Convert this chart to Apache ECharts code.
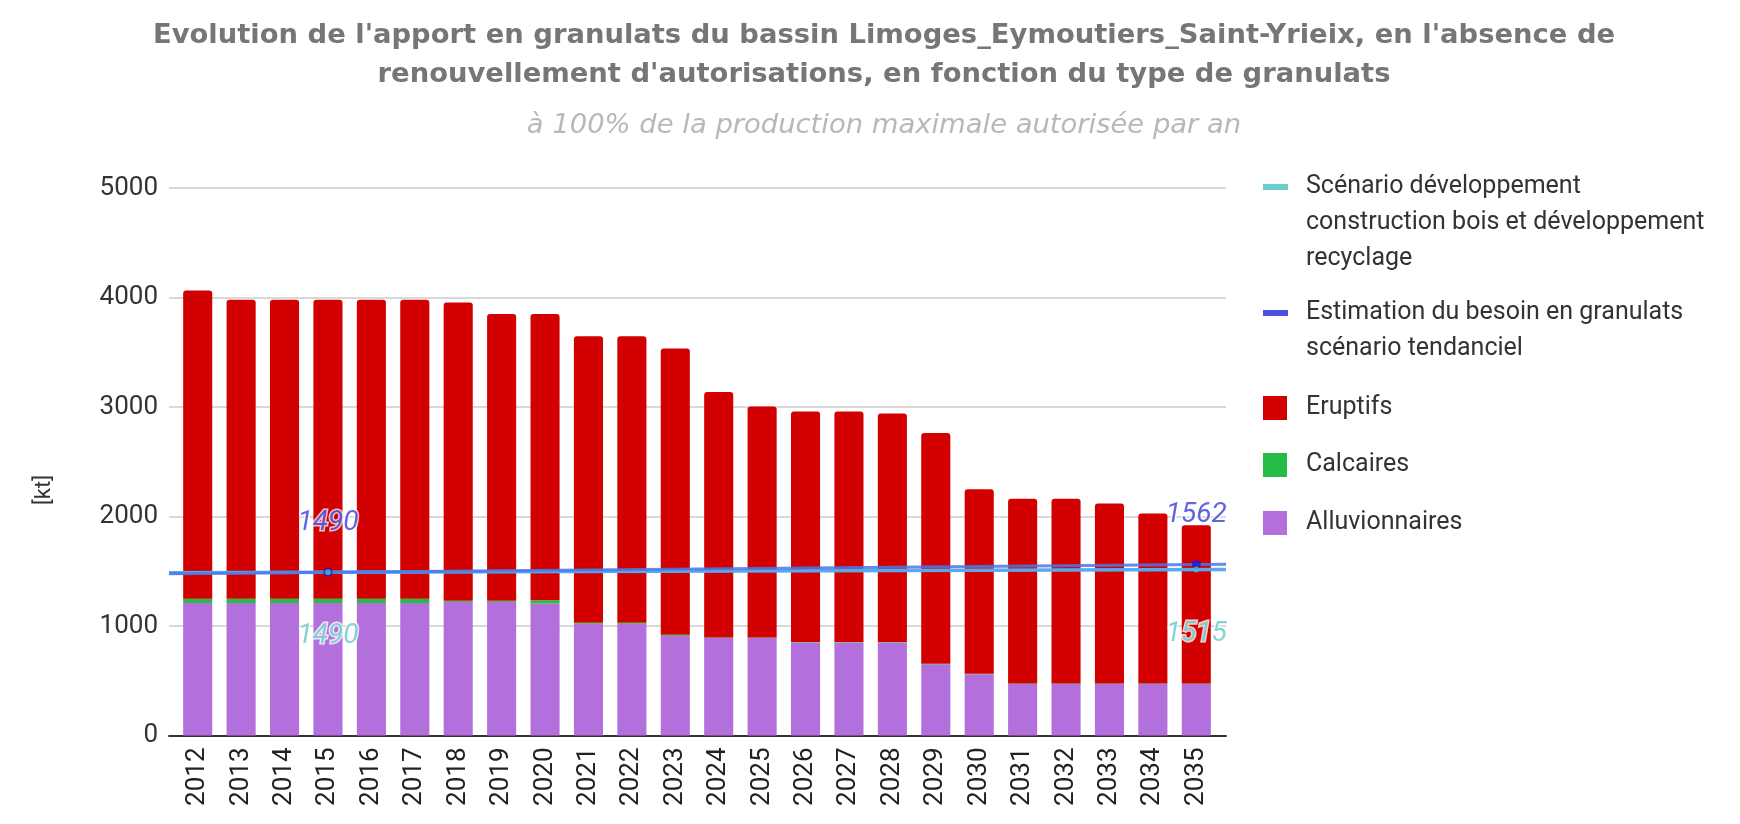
<!DOCTYPE html>
<html>
<head>
<meta charset="utf-8">
<script src="https://cdn.jsdelivr.net/npm/echarts@6/dist/echarts.min.js"></script>
<style>
  html, body { margin: 0; padding: 0; background: #ffffff; }
  #chart { width: 1740px; height: 824px; }
</style>
</head>
<body>
<div id="chart"></div>
<script>
// Années et apports (kt) par type de granulats
const years = ['2012','2013','2014','2015','2016','2017','2018','2019','2020','2021','2022','2023',
               '2024','2025','2026','2027','2028','2029','2030','2031','2032','2033','2034','2035'];
const alluvionnaires = [1210,1210,1210,1210,1210,1210,1220,1220,1205,1020,1020,910,
                        890,890,850,850,850,650,560,470,470,470,470,470];
const calcaires = [40,40,40,40,40,40,10,10,30,10,10,10,
                   5,5,5,5,5,5,5,5,5,5,5,5];
const eruptifs = [2815,2730,2730,2730,2730,2730,2725,2620,2615,2617,2617,2614,
                  2243,2110,2105,2105,2086,2107,1685,1687,1687,1644,1552,1446];

// Besoins (kt) : points renseignés de chaque scénario
const scenarioYears = [2015, 2035];
const scenarioValues = [1490, 1515];
const besoinYears = [2015, 2035];
const besoinValues = [1490, 1562];

// Graduations de l'axe des ordonnées
const yTickValues = [0, 1000, 2000, 3000, 4000, 5000];

const NAME_SCENARIO = 'Scénario développement\nconstruction bois et développement\nrecyclage';
const NAME_BESOIN = 'Estimation du besoin en granulats\nscénario tendanciel';

const COLORS = {
  eruptifs: '#d20000',
  calcaires: '#25bd45',
  alluvionnaires: '#b36fdc',
  scenario: '#45c0c0',
  besoin: '#1515d6'
};
const FONT = 'Roboto, "Liberation Sans", Arial, sans-serif';
const TITLE_FONT = '"DejaVu Sans", Verdana, sans-serif';

// Zone de tracé : quadrillage sur la zone large, barres sur la bande intérieure
const PLOT = { top: 188, bottom: 735.5 };
const OUTER = { left: 169, right: 1226 };
const INNER = { left: 176, right: 1218 };
const step = (INNER.right - INNER.left) / years.length;
const firstYear = Number(years[0]);
const yearAtPx = px => firstYear + (px - INNER.left - step / 2) / step;
const xMin = yearAtPx(OUTER.left);
const xMax = yearAtPx(OUTER.right);

// Courbe de tendance linéaire (moindres carrés) d'une série
function trendline(xs, ys) {
  const n = xs.length;
  const mx = xs.reduce((a, b) => a + b, 0) / n;
  const my = ys.reduce((a, b) => a + b, 0) / n;
  let num = 0, den = 0;
  for (let i = 0; i < n; i++) { num += (xs[i] - mx) * (ys[i] - my); den += (xs[i] - mx) ** 2; }
  const slope = den ? num / den : 0;
  const f = x => my + slope * (x - mx);
  return [[xMin, f(xMin)], [xMax, f(xMax)]];
}

const toPoints = (xs, ys) => xs.map((x, i) => [x, ys[i]]);

// Icônes de légende : trait court ou carré, calés sur la première ligne du libellé
const LINE_H = 36;
const ICON_W = 38;
const lineIcon = h => `path://M0,0L0.01,0M0,15H25V21H0ZM37.99,${h}L38,${h}`;
const squareIcon = `path://M0,0L0.01,0M0,6H24V30H0ZM37.99,${LINE_H}L38,${LINE_H}`;

function legendFor(name, firstLineCenter, lines, icon) {
  return {
    data: [{ name: name, icon: icon }],
    orient: 'vertical',
    left: 1263,
    top: firstLineCenter - LINE_H / 2,
    padding: 0,
    itemWidth: ICON_W,
    itemHeight: LINE_H * lines,
    itemGap: 0,
    selectedMode: false,
    textStyle: { fontSize: 25, lineHeight: LINE_H, color: '#333333', fontFamily: FONT }
  };
}

const labelBase = {
  show: true,
  fontStyle: 'italic',
  fontSize: 28,
  fontFamily: FONT,
  textBorderColor: '#ffffff',
  textBorderWidth: 3,
  formatter: p => p.value[1]
};

const option = {
  backgroundColor: '#ffffff',
  animation: false,
  title: {
    text: "Evolution de l'apport en granulats du bassin Limoges_Eymoutiers_Saint-Yrieix, en l'absence de\nrenouvellement d'autorisations, en fonction du type de granulats",
    subtext: 'à 100% de la production maximale autorisée par an',
    left: 884,
    textAlign: 'center',
    top: 16,
    padding: 0,
    itemGap: 16,
    textStyle: { fontSize: 27.4, fontWeight: 'bold', color: '#767676', lineHeight: 39, fontFamily: TITLE_FONT },
    subtextStyle: { fontSize: 27.4, fontStyle: 'italic', color: '#b8b8b8', lineHeight: 32, fontFamily: TITLE_FONT }
  },
  legend: [
    legendFor(NAME_SCENARIO, 187, 3, lineIcon(LINE_H * 3)),
    legendFor(NAME_BESOIN, 313, 2, lineIcon(LINE_H * 2)),
    legendFor('Eruptifs', 408, 1, squareIcon),
    legendFor('Calcaires', 465, 1, squareIcon),
    legendFor('Alluvionnaires', 523, 1, squareIcon)
  ],
  grid: [
    { left: OUTER.left, width: OUTER.right - OUTER.left, top: PLOT.top, height: PLOT.bottom - PLOT.top },
    { left: INNER.left, width: INNER.right - INNER.left, top: PLOT.top, height: PLOT.bottom - PLOT.top }
  ],
  xAxis: [
    {
      type: 'value', gridIndex: 0, min: xMin, max: xMax,
      axisLine: { show: true, onZero: false, lineStyle: { color: '#333333', width: 2 } },
      axisTick: { show: false }, axisLabel: { show: false }, splitLine: { show: false }
    },
    {
      type: 'category', gridIndex: 1, data: years,
      axisLine: { show: false }, axisTick: { show: false },
      axisLabel: { interval: 0, rotate: 90, margin: 12, fontSize: 26, color: '#222222', fontFamily: FONT }
    }
  ],
  yAxis: [
    {
      type: 'value', gridIndex: 0,
      min: yTickValues[0], max: yTickValues[yTickValues.length - 1],
      interval: yTickValues[1] - yTickValues[0],
      axisLine: { show: false }, axisTick: { show: false },
      axisLabel: { margin: 11, fontSize: 26, color: '#333333', fontFamily: FONT, formatter: v => String(v) },
      splitLine: { lineStyle: { color: '#cccccc', width: 1.5 } }
    },
    {
      type: 'value', gridIndex: 1, show: false,
      min: yTickValues[0], max: yTickValues[yTickValues.length - 1],
      interval: yTickValues[1] - yTickValues[0]
    }
  ],
  graphic: [{
    type: 'text', x: 44, y: 490, rotation: Math.PI / 2,
    style: { text: '[kt]', fontSize: 22, fill: '#333333', fontFamily: FONT, align: 'center', verticalAlign: 'middle' }
  }],
  series: [
    {
      name: 'Alluvionnaires', type: 'bar', stack: 'apport', xAxisIndex: 1, yAxisIndex: 1,
      barCategoryGap: '33%', data: alluvionnaires, itemStyle: { color: COLORS.alluvionnaires }
    },
    {
      name: 'Calcaires', type: 'bar', stack: 'apport', xAxisIndex: 1, yAxisIndex: 1,
      data: calcaires, itemStyle: { color: COLORS.calcaires }
    },
    {
      name: 'Eruptifs', type: 'bar', stack: 'apport', xAxisIndex: 1, yAxisIndex: 1,
      data: eruptifs, itemStyle: { color: COLORS.eruptifs, borderRadius: [3, 3, 0, 0] }
    },
    {
      name: 'tendance scénario', type: 'line', xAxisIndex: 0, yAxisIndex: 0, z: 3, silent: true,
      symbol: 'none', data: trendline(scenarioYears, scenarioValues),
      lineStyle: { color: '#5aa8ee', width: 3.5 }
    },
    {
      name: 'tendance besoin', type: 'line', xAxisIndex: 0, yAxisIndex: 0, z: 3, silent: true,
      symbol: 'none', data: trendline(besoinYears, besoinValues),
      lineStyle: { color: '#4a78e6', width: 3, opacity: 0.85 }
    },
    {
      name: NAME_BESOIN, type: 'scatter', xAxisIndex: 0, yAxisIndex: 0, z: 4,
      symbolSize: 9, data: toPoints(besoinYears, besoinValues),
      itemStyle: { color: COLORS.besoin, opacity: 0.75 },
      label: Object.assign({}, labelBase, { position: 'top', distance: 31, color: '#2f2fd8' })
    },
    {
      name: NAME_SCENARIO, type: 'scatter', xAxisIndex: 0, yAxisIndex: 0, z: 5,
      symbolSize: 6, data: toPoints(scenarioYears, scenarioValues),
      itemStyle: { color: COLORS.scenario },
      label: Object.assign({}, labelBase, { position: 'bottom', distance: 47, color: '#66c8c8' })
    }
  ]
};

const chart = echarts.init(document.getElementById('chart'), null, { renderer: 'canvas' });
chart.setOption(option);
</script>
</body>
</html>
